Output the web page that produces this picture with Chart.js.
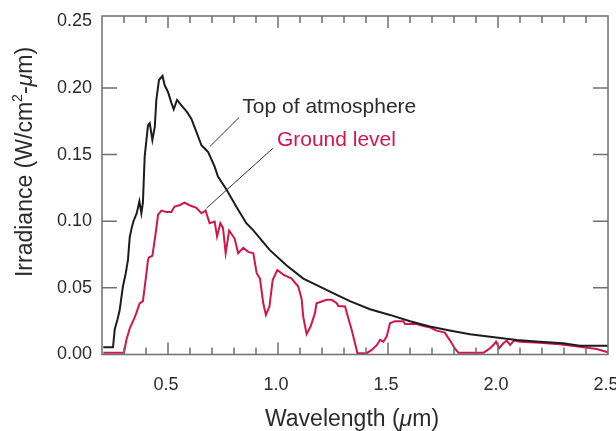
<!DOCTYPE html>
<html>
<head>
<meta charset="utf-8">
<script src="https://cdn.jsdelivr.net/npm/chart.js@4"></script>
<style>
  html, body { margin: 0; padding: 0; background: #fff; }
  #wrap { width: 616px; height: 431px; }
</style>
</head>
<body>
<div id="wrap"><canvas id="myChart" width="616" height="431"></canvas></div>
<script>
// wavelength (um) and irradiance (W/cm2-um)
const topWave = [0.206, 0.25, 0.258, 0.27, 0.28, 0.295, 0.308, 0.318, 0.326, 0.335, 0.343, 0.358, 0.37, 0.379, 0.386, 0.394, 0.409, 0.417, 0.429, 0.44, 0.447, 0.459, 0.475, 0.485, 0.5, 0.515, 0.526, 0.541, 0.561, 0.586, 0.606, 0.629, 0.652, 0.682, 0.712, 0.727, 0.765, 0.81, 0.856, 0.886, 0.962, 1.038, 1.115, 1.19, 1.267, 1.327, 1.418, 1.509, 1.6, 1.69, 1.78, 1.873, 1.964, 2.085, 2.19, 2.296, 2.372, 2.5];
const topIrr = [0.0054, 0.0054, 0.019, 0.026, 0.033, 0.051, 0.061, 0.071, 0.088, 0.095, 0.1, 0.106, 0.115, 0.106, 0.114, 0.1485, 0.172, 0.1736, 0.161, 0.171, 0.191, 0.206, 0.209, 0.202, 0.197, 0.189, 0.184, 0.191, 0.187, 0.182, 0.177, 0.167, 0.157, 0.152, 0.141, 0.1335, 0.124, 0.111, 0.0985, 0.0935, 0.0785, 0.067, 0.057, 0.051, 0.0447, 0.04, 0.034, 0.0297, 0.025, 0.021, 0.018, 0.0152, 0.0134, 0.0109, 0.0096, 0.0084, 0.0066, 0.0066];

const groundWave = [0.206, 0.3, 0.311, 0.326, 0.349, 0.356, 0.371, 0.386, 0.402, 0.409, 0.414, 0.429, 0.444, 0.455, 0.47, 0.493, 0.515, 0.53, 0.553, 0.575, 0.598, 0.629, 0.652, 0.671, 0.689, 0.712, 0.723, 0.738, 0.75, 0.762, 0.778, 0.803, 0.819, 0.842, 0.865, 0.888, 0.903, 0.918, 0.933, 0.945, 0.961, 0.976, 0.997, 1.024, 1.062, 1.092, 1.107, 1.115, 1.13, 1.148, 1.168, 1.175, 1.221, 1.244, 1.267, 1.274, 1.305, 1.32, 1.335, 1.35, 1.361, 1.403, 1.426, 1.449, 1.464, 1.479, 1.494, 1.509, 1.532, 1.57, 1.577, 1.63, 1.66, 1.69, 1.72, 1.758, 1.78, 1.803, 1.82, 1.935, 1.964, 1.979, 1.991, 2.006, 2.024, 2.04, 2.055, 2.073, 2.1, 2.19, 2.28, 2.372, 2.448, 2.5];
const groundIrr = [0.0014, 0.0014, 0.011, 0.0195, 0.028, 0.031, 0.0384, 0.04, 0.061, 0.071, 0.073, 0.074, 0.091, 0.105, 0.108, 0.107, 0.107, 0.111, 0.112, 0.114, 0.112, 0.11, 0.106, 0.108, 0.0985, 0.0997, 0.0885, 0.0985, 0.095, 0.076, 0.093, 0.087, 0.076, 0.08, 0.077, 0.076, 0.061, 0.057, 0.0384, 0.0297, 0.036, 0.056, 0.0634, 0.06, 0.057, 0.051, 0.042, 0.028, 0.0154, 0.021, 0.031, 0.0384, 0.041, 0.041, 0.0385, 0.0364, 0.036, 0.027, 0.0184, 0.0084, 0.001, 0.001, 0.0034, 0.007, 0.011, 0.0096, 0.0134, 0.0234, 0.025, 0.025, 0.0229, 0.0229, 0.0214, 0.0204, 0.0179, 0.0164, 0.011, 0.0047, 0.0014, 0.0014, 0.0047, 0.0071, 0.0096, 0.0047, 0.0084, 0.0104, 0.0071, 0.0104, 0.0096, 0.0089, 0.0077, 0.0059, 0.0041, 0.0016];

const xTickLabels = ["0.5", "1.0", "1.5", "2.0", "2.5"];
const yTickLabels = ["0.00", "0.05", "0.10", "0.15", "0.20", "0.25"];

const black = "#1c1c1c";
const red = "#d1164b";
const axisGray = "#6f6f6f";
const textGray = "#2b2b2b";
const font = "'Liberation Sans', Arial, Helvetica, sans-serif";

function toPoints(xs, ys) {
  return xs.map((x, i) => ({ x: x, y: ys[i] }));
}

// draws a run of text pieces (normal / italic / superscript) centred on 0,0
function drawPieces(ctx, pieces, size) {
  const fontOf = (p) => (p.italic ? "italic " : "") + (p.sup ? size * 0.62 : size) + "px " + font;
  let total = 0;
  pieces.forEach((p) => {
    ctx.font = fontOf(p);
    p.w = ctx.measureText(p.t).width;
    total += p.w;
  });
  let x = -total / 2;
  ctx.textBaseline = "alphabetic";
  ctx.textAlign = "left";
  pieces.forEach((p) => {
    ctx.font = fontOf(p);
    ctx.fillText(p.t, x, p.sup ? size * 0.35 - size * 0.42 : size * 0.35);
    x += p.w;
  });
}

// frame + inward tick marks, axis titles, curve labels with leader lines
const framePlugin = {
  id: "frame",
  afterDatasetsDraw(chart) {
    const { ctx, chartArea: a, scales } = chart;
    const sx = scales.x, sy = scales.y;
    ctx.save();
    ctx.strokeStyle = axisGray;
    ctx.lineWidth = 1.5;
    ctx.strokeRect(a.left, a.top, a.right - a.left, a.bottom - a.top);

    ctx.beginPath();
    for (let i = 3; i <= 24; i++) {
      const px = sx.getPixelForValue(i / 10);
      const len = i % 5 === 0 ? 12 : 7;
      ctx.moveTo(px, a.bottom);
      ctx.lineTo(px, a.bottom - len);
      ctx.moveTo(px, a.top);
      ctx.lineTo(px, a.top + len);
    }
    for (let i = 1; i <= 4; i++) {
      const py = sy.getPixelForValue(i * 0.05);
      ctx.moveTo(a.left, py);
      ctx.lineTo(a.left + 15, py);
      ctx.moveTo(a.right, py);
      ctx.lineTo(a.right - 15, py);
    }
    ctx.stroke();

    // leader lines
    ctx.strokeStyle = "#333";
    ctx.lineWidth = 1;
    ctx.beginPath();
    ctx.moveTo(sx.getPixelForValue(0.823), sy.getPixelForValue(0.1778));
    ctx.lineTo(sx.getPixelForValue(0.69), sy.getPixelForValue(0.156));
    ctx.moveTo(sx.getPixelForValue(0.977), sy.getPixelForValue(0.1548));
    ctx.lineTo(sx.getPixelForValue(0.675), sy.getPixelForValue(0.1098));
    ctx.stroke();

    ctx.font = "21px " + font;
    ctx.textBaseline = "alphabetic";
    ctx.textAlign = "left";
    ctx.fillStyle = textGray;
    ctx.fillText("Top of atmosphere", sx.getPixelForValue(0.838), sy.getPixelForValue(0.181));
    ctx.fillStyle = red;
    ctx.fillText("Ground level", sx.getPixelForValue(0.995), sy.getPixelForValue(0.1565));

    // axis titles
    ctx.fillStyle = textGray;
    ctx.save();
    ctx.translate(352, 418);
    drawPieces(ctx, [{ t: "Wavelength (" }, { t: "μ", italic: true }, { t: "m)" }], 23);
    ctx.restore();

    ctx.save();
    ctx.translate(24, 162);
    ctx.rotate(-Math.PI / 2);
    drawPieces(ctx, [
      { t: "Irradiance (W/cm" },
      { t: "2", sup: true },
      { t: "-" },
      { t: "μ", italic: true },
      { t: "m)" },
    ], 23);
    ctx.restore();
    ctx.restore();
  },
};

const ctx = document.getElementById("myChart").getContext("2d");

const myChart = new Chart(ctx, {
  type: "line",
  data: {
    datasets: [
      {
        label: "Top of atmosphere",
        data: toPoints(topWave, topIrr),
        borderColor: black,
        borderWidth: 2,
        pointRadius: 0,
        tension: 0,
      },
      {
        label: "Ground level",
        data: toPoints(groundWave, groundIrr),
        borderColor: red,
        borderWidth: 2,
        pointRadius: 0,
        tension: 0,
      },
    ],
  },
  options: {
    responsive: false,
    animation: false,
    layout: { padding: { top: 16, right: 8, left: 0, bottom: 0 } },
    plugins: { legend: { display: false }, tooltip: { enabled: false } },
    scales: {
      x: {
        type: "linear",
        min: 0.2,
        max: 2.5,
        grid: { display: false, drawTicks: false },
        border: { display: false },
        ticks: {
          stepSize: 0.5,
          includeBounds: false,
          autoSkip: false,
          maxRotation: 0,
          padding: 20,
          labelOffset: -2,
          color: textGray,
          font: { family: font, size: 18 },
          callback: (v) => {
            const i = Math.round(v * 2) - 1;
            return xTickLabels[i] || "";
          },
        },
        afterFit: (s) => {
          s.height = 76.5;
          s.paddingLeft = 0;
          s.paddingRight = 0;
        },
      },
      y: {
        min: 0,
        max: 0.254,
        grid: { display: false, drawTicks: false },
        border: { display: false },
        ticks: {
          stepSize: 0.05,
          includeBounds: false,
          padding: 10,
          color: textGray,
          font: { family: font, size: 18 },
          callback: (v) => yTickLabels[Math.round(v / 0.05)] || "",
        },
        afterFit: (s) => {
          s.width = 102;
          s.paddingTop = 0;
          s.paddingBottom = 0;
        },
      },
    },
  },
  plugins: [framePlugin],
});
</script>
</body>
</html>
